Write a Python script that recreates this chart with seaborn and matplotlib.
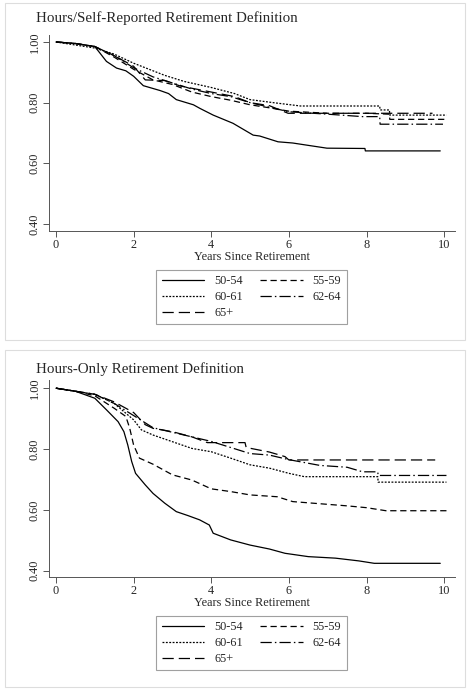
import numpy as np
import pandas as pd
import seaborn as sns
from matplotlib import pyplot as plt
from matplotlib.patches import Rectangle

# age groups and their line dash patterns
groups = ['50-54', '55-59', '60-61', '62-64', '65+']
dash_styles = {
    '50-54': '',
    '55-59': (5, 3),
    '60-61': (1.5, 1.2),
    '62-64': (9, 2.5, 1.2, 2.5),
    '65+': (9, 4),
}

# Panel 1: Hours/Self-Reported definition (years, survival)
hs_t_5054 = [0, 0.5, 1.0, 1.3, 1.56, 1.8, 2.0, 2.25, 2.68, 2.9, 3.1, 3.54, 3.71, 4.05, 4.56, 5.08, 5.25, 5.72, 6.1, 6.46, 6.98, 7.96, 7.97, 9.9]
hs_s_5054 = [1.0, 0.995, 0.985, 0.936, 0.914, 0.905, 0.887, 0.856, 0.84, 0.83, 0.81, 0.793, 0.781, 0.759, 0.732, 0.693, 0.69, 0.671, 0.667, 0.66, 0.65, 0.649, 0.641, 0.641]
hs_t_5559 = [0, 0.5, 1.0, 1.5, 2.0, 2.5, 3.0, 3.5, 4.0, 4.5, 5.0, 5.5, 6.0, 7.0, 8.0, 8.59, 8.6, 10.06]
hs_s_5559 = [1.0, 0.995, 0.985, 0.95, 0.91, 0.875, 0.86, 0.835, 0.82, 0.808, 0.793, 0.783, 0.772, 0.765, 0.765, 0.762, 0.745, 0.745]
hs_t_6061 = [0, 0.5, 1.0, 1.5, 2.0, 2.4, 2.8, 3.3, 4.0, 4.6, 5.0, 5.6, 6.3, 8.34, 8.35, 8.59, 8.6, 10.06]
hs_s_6061 = [1.0, 0.99, 0.98, 0.96, 0.93, 0.91, 0.89, 0.87, 0.85, 0.83, 0.81, 0.80, 0.789, 0.789, 0.776, 0.776, 0.759, 0.759]
hs_t_6264 = [0, 0.5, 1.0, 1.5, 2.0, 2.5, 3.0, 3.5, 4.0, 4.5, 5.0, 5.5, 6.0, 7.0, 7.9, 8.34, 8.35, 9.97]
hs_s_6264 = [1.0, 0.995, 0.985, 0.955, 0.915, 0.885, 0.865, 0.845, 0.83, 0.82, 0.80, 0.785, 0.77, 0.762, 0.754, 0.754, 0.729, 0.729]
hs_t_65p = [0, 0.5, 1.0, 1.5, 2.0, 2.3, 2.8, 3.2, 4.0, 4.6, 5.0, 5.5, 5.98, 7.0, 8.0, 9.7]
hs_s_65p = [1.0, 0.995, 0.985, 0.955, 0.92, 0.875, 0.873, 0.855, 0.835, 0.82, 0.80, 0.79, 0.765, 0.765, 0.765, 0.765]

# Panel 2: Hours-Only definition
ho_t_5054 = [0, 0.5, 1.0, 1.3, 1.6, 1.75, 1.85, 1.95, 2.05, 2.3, 2.5, 2.8, 3.1, 3.4, 3.7, 3.95, 4.05, 4.5, 5.0, 5.5, 5.9, 6.5, 7.2, 7.8, 8.2, 9.9]
ho_s_5054 = [1.0, 0.99, 0.967, 0.929, 0.89, 0.857, 0.813, 0.759, 0.72, 0.682, 0.654, 0.622, 0.594, 0.581, 0.567, 0.55, 0.523, 0.501, 0.484, 0.471, 0.457, 0.446, 0.441, 0.432, 0.424, 0.424]
ho_t_5559 = [0, 0.5, 1.0, 1.5, 1.8, 1.9, 2.0, 2.15, 2.5, 3.0, 3.5, 4.0, 4.5, 5.0, 5.7, 6.1, 7.0, 7.5, 8.0, 8.5, 10.06]
ho_s_5559 = [1.0, 0.99, 0.975, 0.934, 0.907, 0.868, 0.813, 0.77, 0.75, 0.715, 0.698, 0.669, 0.66, 0.649, 0.643, 0.627, 0.618, 0.613, 0.607, 0.597, 0.597]
ho_t_6061 = [0, 0.5, 1.0, 1.5, 2.0, 2.2, 2.5, 3.0, 3.5, 4.0, 4.5, 5.0, 5.5, 6.0, 6.4, 8.29, 8.3, 10.06]
ho_s_6061 = [1.0, 0.99, 0.98, 0.95, 0.896, 0.863, 0.846, 0.824, 0.802, 0.791, 0.77, 0.748, 0.737, 0.72, 0.709, 0.709, 0.691, 0.691]
ho_t_6264 = [0, 0.5, 1.0, 1.5, 2.0, 2.5, 3.0, 3.5, 4.0, 4.5, 5.0, 5.5, 6.0, 6.8, 7.5, 7.9, 8.29, 8.3, 10.06]
ho_s_6264 = [1.0, 0.99, 0.98, 0.95, 0.91, 0.87, 0.855, 0.84, 0.825, 0.805, 0.785, 0.78, 0.765, 0.746, 0.74, 0.725, 0.725, 0.713, 0.713]
ho_t_65p = [0, 0.5, 1.0, 1.5, 2.0, 2.3, 2.5, 3.0, 3.5, 3.9, 4.87, 4.9, 5.5, 5.9, 6.0, 9.77]
ho_s_65p = [1.0, 0.99, 0.98, 0.955, 0.92, 0.88, 0.868, 0.857, 0.84, 0.821, 0.821, 0.805, 0.79, 0.775, 0.764, 0.764]

panels = [
    ('Hours/Self-Reported Retirement Definition',
     [(hs_t_5054, hs_s_5054), (hs_t_5559, hs_s_5559), (hs_t_6061, hs_s_6061),
      (hs_t_6264, hs_s_6264), (hs_t_65p, hs_s_65p)], (0.377, 1.023)),
    ('Hours-Only Retirement Definition',
     [(ho_t_5054, ho_s_5054), (ho_t_5559, ho_s_5559), (ho_t_6061, ho_s_6061),
      (ho_t_6264, ho_s_6264), (ho_t_65p, ho_s_65p)], (0.379, 1.027)),
]

sns.set_style('ticks')
plt.rcParams['font.family'] = ['Liberation Serif', 'DejaVu Serif']

W, H = 469, 690
fig = plt.figure(figsize=(W / 100, H / 100), dpi=100)

# pixel geometry of each panel: (axes top, axes bottom, box top, box bottom, title y, legend top)
geom = [(35, 231, 3, 340, 18, 270), (380, 577, 350, 687, 369, 616)]

for (title, series, ylim), (ax_top, ax_bot, box_top, box_bot, title_y, leg_top) in zip(panels, geom):
    rows = []
    for g, (t, s) in zip(groups, series):
        for ti, si in zip(t, s):
            rows.append({'years': ti, 'surv': si, 'group': g})
    df = pd.DataFrame(rows)

    fig.patches.append(Rectangle((5 / W, 1 - box_bot / H), 460 / W, (box_bot - box_top) / H,
                                 transform=fig.transFigure, fill=False,
                                 edgecolor='#dddddd', linewidth=0.8))

    ax = fig.add_axes([49 / W, 1 - ax_bot / H, 406 / W, (ax_bot - ax_top) / H])
    sns.lineplot(data=df, x='years', y='surv', style='group', style_order=groups,
                 dashes=dash_styles, color='black', linewidth=0.9,
                 estimator=None, sort=True, legend='brief', ax=ax)
    ax.set_xlim(-0.18, 10.28)
    ax.set_ylim(*ylim)
    ax.set_xticks([0, 2, 4, 6, 8, 10])
    ax.set_yticks([0.4, 0.6, 0.8, 1.0])
    ax.set_yticklabels(['0.40', '0.60', '0.80', '1.00'], rotation=90, va='center')
    ax.tick_params(labelsize=8.8, length=4, width=0.7, color='#555555', pad=2)
    ax.set_xlabel('Years Since Retirement', fontsize=8.8, labelpad=0)
    ax.set_ylabel('')
    for sp in ['left', 'bottom']:
        ax.spines[sp].set_color('#555555')
        ax.spines[sp].set_linewidth(0.7)
    sns.despine(ax=ax)

    handles, labels = ax.get_legend_handles_labels()
    ax.get_legend().remove()
    # reorder so the two-column legend reads across rows
    order = [0, 2, 4, 1, 3]
    leg = fig.legend([handles[i] for i in order], [labels[i] for i in order],
                     loc='upper center', bbox_to_anchor=(251.5 / W, 1 - leg_top / H),
                     ncol=2, fontsize=8.8, frameon=True, fancybox=False,
                     handlelength=3.5, columnspacing=1.4, labelspacing=0.3,
                     handletextpad=0.8, borderpad=0.45, borderaxespad=0)
    leg.get_frame().set_edgecolor('#888888')
    leg.get_frame().set_linewidth(0.8)

    fig.text(36 / W, 1 - title_y / H, title, fontsize=10.8, ha='left', va='center')

fig.savefig('out.png', dpi=100)
